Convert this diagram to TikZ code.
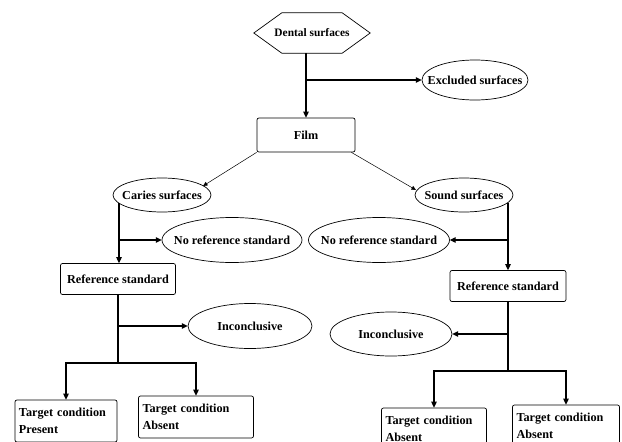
\documentclass[tikz,border=0pt]{standalone}
\usepackage{fontspec}
\setmainfont{Liberation Serif}
\usetikzlibrary{arrows.meta}

\begin{document}
\begin{tikzpicture}[x=1pt,y=-1pt,
   every node/.style={font=\bfseries\fontsize{12.2}{17}\selectfont},
   box/.style={draw,rounded corners=2pt,line width=0.7pt},
   tbox/.style={box,align=left,inner xsep=4pt,minimum height=42pt},
   oval/.style={inner sep=0pt},
   line/.style={line width=1.1pt},
   arr/.style={line,-{Triangle[length=6pt,width=5.5pt]}},
   thinarr/.style={line width=0.5pt,-{Triangle[length=4.5pt,width=4pt]}}]
   \useasboundingbox (0,0) rectangle (622,442);
   \clip (0,0) rectangle (622,442);
   \node[minimum width=116pt,minimum height=40pt,inner sep=0pt,font=\bfseries\fontsize{11.4}{14}\selectfont] (ds) at (312,33) {Dental surfaces};
   \draw[line width=0.7pt] (ds.west) -- ([xshift=28pt]ds.north west) -- ([xshift=-28pt]ds.north east)
      -- (ds.east) -- ([xshift=-28pt]ds.south east) -- ([xshift=28pt]ds.south west) -- cycle;
   \node[box,minimum width=98pt,minimum height=34pt] (film) at (306,135) {Film};
   \node[oval,minimum width=106pt,minimum height=40pt] (exc) at (475,80) {Excluded surfaces};
   \node[oval,minimum width=98pt,minimum height=34pt] (caries) at (162,195) {Caries surfaces};
   \node[oval,minimum width=98pt,minimum height=34pt] (sound) at (464,195) {Sound surfaces};
   \node[oval,minimum width=140pt,minimum height=45pt] (nrl) at (232,240) {No reference standard};
   \node[oval,minimum width=141pt,minimum height=45pt] (nrr) at (379,240) {No reference standard};
   \node[box,minimum width=115pt,minimum height=31pt] (rsl) at (118,279) {Reference standard};
   \node[box,minimum width=116pt,minimum height=31pt] (rsr) at (508,286) {Reference standard};
   \node[oval,minimum width=124pt,minimum height=45pt] (incl) at (250,326) {Inconclusive};
   \node[oval,minimum width=122pt,minimum height=44pt] (incr) at (391,334) {Inconclusive};
   \node[tbox,text width=94pt] (tcp) at (66,421) {Target condition\\Present};
   \node[tbox,text width=107pt] (tcal) at (196,417) {Target condition\\Absent};
   \node[tbox,text width=97pt] (tcra) at (434,429) {Target condition\\Absent};
   \node[tbox,text width=99pt] (tcrb) at (566,426) {Target condition\\Absent};
   \foreach \n/\a/\b in {exc/53/20,caries/49/17,sound/49/17,nrl/70/22.5,nrr/70.5/22.5,incl/62/22.5,incr/61/22}
      \draw[line width=0.7pt] (\n.center) ellipse (\a pt and \b pt);
   \coordinate (jl) at (118,363);
   \coordinate (jr) at (508,371);

   \draw[arr] (ds.south -| film) -- (film.north);
   \draw[arr] (film |- exc) -- (exc.west);
   \draw[thinarr] (film.south west) -- ([shift={(41pt,9pt)}]caries.center);
   \draw[thinarr] ([xshift=-4pt]film.south east) -- ([shift={(-48pt,5pt)}]sound.center);
   \draw[arr] ([shift={(-43pt,-8pt)}]caries.center) coordinate (cl) -- (cl |- rsl.north);
   \draw[arr] (cl |- nrl) -- (nrl.west);
   \draw[arr] ([shift={(44pt,-7.5pt)}]sound.center) coordinate (sr) -- (sr |- rsr.north);
   \draw[arr] (sr |- nrr) -- (nrr.east);
   \draw[line] (rsl.south) -- (jl);
   \draw[arr] (rsl.south |- incl) -- (incl.west);
   \draw[arr] (jl) -| (tcp.north);
   \draw[arr] (jl) -| (tcal.north);
   \draw[line] (rsr.south) -- (jr);
   \draw[arr] (rsr.south |- incr) -- (incr.east);
   \draw[arr] (jr) -| (tcra.north);
   \draw[arr] (jr) -| (tcrb.north);
\end{tikzpicture}
\end{document}
